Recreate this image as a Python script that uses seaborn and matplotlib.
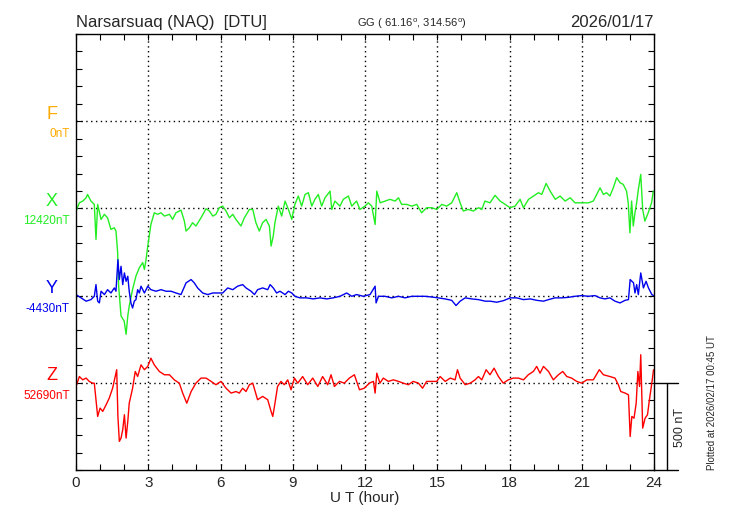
import numpy as np
import pandas as pd
import matplotlib
matplotlib.use("Agg")
import matplotlib.pyplot as plt
import seaborn as sns

# ---------------- data (nT deviations from baselines) ----------------
x_hours = [0, 0.14, 0.28, 0.42, 0.48, 0.62, 0.76, 0.83, 0.9, 1.04, 1.18, 1.31, 1.45, 1.59, 1.66, 1.73,
           1.77, 1.87, 2.0, 2.08, 2.15, 2.21, 2.35, 2.49, 2.63, 2.77, 2.84, 2.91, 2.98, 3.11, 3.25,
           3.39, 3.53, 3.67, 3.88, 4.01, 4.15, 4.36, 4.5, 4.57, 4.71, 4.84, 4.98, 5.19, 5.4, 5.54,
           5.68, 5.81, 5.95, 6.09, 6.23, 6.37, 6.51, 6.64, 6.85, 6.99, 7.2, 7.34, 7.47, 7.61, 7.75,
           7.89, 8.03, 8.1, 8.19, 8.26, 8.4, 8.54, 8.68, 8.82, 8.96, 9.09, 9.23, 9.37, 9.51, 9.65,
           9.79, 9.92, 10.06, 10.2, 10.34, 10.55, 10.62, 10.75, 10.96, 11.1, 11.31, 11.45, 11.65,
           11.79, 12.0, 12.14, 12.28, 12.42, 12.49, 12.63, 12.83, 13.04, 13.25, 13.39, 13.52, 13.73,
           13.94, 14.15, 14.35, 14.56, 14.77, 14.98, 15.19, 15.39, 15.6, 15.81, 15.95, 16.08, 16.29,
           16.5, 16.71, 16.85, 16.98, 17.19, 17.4, 17.61, 17.82, 18.02, 18.23, 18.44, 18.58, 18.79,
           19.0, 19.2, 19.34, 19.52, 19.69, 19.9, 20.1, 20.31, 20.52, 20.72, 21.0, 21.28, 21.48,
           21.62, 21.76, 21.9, 22.03, 22.17, 22.31, 22.45, 22.59, 22.72, 22.86, 22.93, 23.0, 23.07,
           23.14, 23.21, 23.28, 23.35, 23.45, 23.53, 23.62, 23.76, 23.9, 23.97]
x_vals = [-15, 32, 42, 61, 80, 42, 23, -178, 23, -63, -34, -54, -120, -111, -130, -254,
          -445, -617, -646, -722, -617, -560, -464, -388, -340, -311, -350, -292, -216, -92, -25,
          -34, -25, -44, -34, -63, -25, -10, -73, -130, -111, -82, -101, -54, -2, -15,
          -44, -34, 4, 13, -15, -54, -34, -63, -101, -54, -6, -6, -82, -130, -82,
          -63, -101, -216, -159, -82, 13, -44, 42, -6, -63, 23, 71, 13, 80, 90,
          13, 52, 80, 13, 61, 99, -6, 42, 13, 52, 71, 13, 42,
          -6, 13, 32, 13, -92, 99, 32, 42, 52, 42, 61, 23, 23,
          13, 23, -25, 4, 4, -6, 23, 13, 32, 90, 32, -15, -6,
          -15, 4, -6, 42, 32, 75, 42, 23, 4, 13, 52, 4, 52,
          71, 90, 80, 143, 99, 52, 71, 42, 61, 32, 32, 32, 42,
          80, 118, 80, 90, 71, 118, 176, 147, 138, 99, 32, -140, 42,
          -101, -25, 32, 109, 195, -6, -73, -25, 32, 99]

y_hours = [0, 0.21, 0.42, 0.62, 0.76, 0.83, 0.9, 0.97, 1.04, 1.18, 1.31, 1.45, 1.59, 1.66, 1.74,
           1.8, 1.87, 1.94, 2.01, 2.08, 2.15, 2.21, 2.28, 2.35, 2.42, 2.49, 2.56, 2.63, 2.7, 2.84,
           2.98, 3.11, 3.32, 3.53, 3.74, 3.95, 4.15, 4.36, 4.57, 4.78, 4.91, 5.05, 5.26, 5.47, 5.68,
           5.88, 6.09, 6.3, 6.51, 6.71, 6.92, 7.06, 7.27, 7.41, 7.54, 7.75, 7.96, 8.06, 8.19, 8.33,
           8.47, 8.68, 8.82, 8.96, 9.09, 9.3, 9.58, 9.85, 10.13, 10.41, 10.68, 10.96, 11.24, 11.45,
           11.65, 11.93, 12.21, 12.42, 12.46, 12.56, 12.83, 13.11, 13.39, 13.66, 13.94, 14.22,
           14.49, 14.77, 15.04, 15.32, 15.6, 15.78, 15.95, 16.16, 16.43, 16.71, 16.99, 17.2, 17.47,
           17.75, 18.03, 18.3, 18.58, 18.86, 19.13, 19.41, 19.62, 19.89, 20.17, 20.44, 20.72, 21.0,
           21.27, 21.55, 21.76, 21.96, 22.17, 22.38, 22.59, 22.8, 22.94, 23.01, 23.15, 23.21, 23.28,
           23.35, 23.45, 23.56, 23.67, 23.77, 23.91, 23.98]
y_vals = [6, -13, -32, -23, -4, 63, -32, -42, 25, 6, 34, 15, 44, 25, 206,
          92, 168, 63, 130, 82, 111, 25, -42, -71, -32, -23, 34, 15, 54, 15,
          54, 34, 25, 34, 25, 25, 15, 6, 73, 92, 73, 44, 15, 6, 15,
          15, 15, 44, 34, 54, 63, 44, 25, 6, 34, 44, 34, 63, 44, 15,
          25, 6, 25, 15, -4, -13, -13, -19, -13, -19, -13, -4, 15, -4,
          6, -4, 6, 54, -42, -4, -4, -13, -4, -13, -4, -4,
          -4, -8, -13, -19, -27, -57, -32, -13, -19, -23, -32, -32, -38,
          -29, -13, -13, -23, -19, -27, -32, -23, -13, -13, -10, -4, 0,
          -4, 0, -13, -19, -13, -32, -42, -27, -23, 92, 73, 15, 63,
          6, 130, 44, 82, 44, 6, 0]

z_hours = [0, 0.14, 0.28, 0.42, 0.55, 0.69, 0.76, 0.83, 0.9, 1.0, 1.11, 1.25, 1.38, 1.52, 1.63,
           1.69, 1.74, 1.8, 1.87, 1.94, 2.01, 2.08, 2.15, 2.21, 2.35, 2.46, 2.56, 2.7, 2.84, 2.98,
           3.11, 3.25, 3.46, 3.67, 3.88, 4.08, 4.29, 4.43, 4.6, 4.78, 4.98, 5.19, 5.4, 5.61, 5.81,
           6.02, 6.23, 6.44, 6.64, 6.78, 6.92, 7.06, 7.2, 7.34, 7.54, 7.75, 7.96, 8.1, 8.17, 8.24,
           8.37, 8.51, 8.65, 8.79, 8.93, 9.07, 9.21, 9.41, 9.62, 9.83, 10.04, 10.24, 10.45, 10.59,
           10.73, 10.94, 11.14, 11.35, 11.56, 11.77, 11.97, 12.18, 12.35, 12.42, 12.49, 12.62,
           12.76, 12.97, 13.18, 13.39, 13.59, 13.8, 14.0, 14.22, 14.39, 14.56, 14.77, 14.98, 15.12,
           15.33, 15.54, 15.74, 15.84, 15.95, 16.16, 16.37, 16.57, 16.71, 16.85, 17.03, 17.19,
           17.36, 17.54, 17.74, 17.95, 18.16, 18.37, 18.58, 18.78, 18.99, 19.13, 19.27, 19.41,
           19.62, 19.82, 20.03, 20.21, 20.38, 20.58, 20.79, 21.0, 21.21, 21.48, 21.73, 21.9, 22.17,
           22.38, 22.52, 22.62, 22.8, 22.94, 23.01, 23.08, 23.17, 23.26, 23.33, 23.4, 23.45, 23.53,
           23.63, 23.73, 23.81, 23.91, 23.98]
z_vals = [-21, 36, 17, 27, 8, -2, -2, -97, -193, -145, -164, -126, -88, -31, 36,
          75, -193, -336, -317, -269, -183, -317, -222, -117, -31, 65, 36, 103, 75, 94,
          141, 103, 65, 46, 46, 17, -2, -59, -117, -50, -2, 27, 27, 8, -11,
          8, -31, -59, -50, -59, -31, -50, -11, -2, -97, -78, -97, -164, -193, -136,
          -21, 8, -11, 17, -40, 27, -2, 36, -11, 27, -21, 36, -11, 46,
          -21, 8, -2, 27, 46, -40, -31, -2, 8, -59, 55, -2,
          27, 8, 17, 8, -2, -11, 8, -2, -31, 8, 8, 8, 36,
          8, 27, 17, 75, 27, -11, -2, 17, 36, 17, 75, 46,
          84, 36, -2, 17, 27, 27, 17, 46, 65, 94, 55, 94,
          65, 17, 46, 65, 36, 27, 8, -2, 17, 17, 75, 46, 36,
          27, -11, -50, -59, -69, -308, -193, -203, -117, 65, -21, 161, -260,
          -203, -183, -97, -2, 75]

components = ["F", "X", "Y", "Z"]
baseline_labels = ["0nT", "12420nT", "-4430nT", "52690nT"]
offsets = [2000, 1500, 1000, 500]
colors = ["#FFAA00", "#22EE22", "#0000EE", "#FF0000"]

title_left = "Narsarsuaq (NAQ)  [DTU]"
title_mid = "GG ( 61.16$^{o}$, 314.56$^{o}$)"
title_right = "2026/01/17"
plotted = "Plotted at 2026/02/17 00:45 UT"
xticks = [0, 3, 6, 9, 12, 15, 18, 21, 24]

# ---------------- figure ----------------
sns.set_style("ticks")
plt.rcParams["font.family"] = ["Liberation Sans", "DejaVu Sans"]
plt.rcParams["mathtext.default"] = "regular"

fig = plt.figure(figsize=(7.3, 5.2), dpi=100)
ax = fig.add_axes([76 / 730, 1 - 470 / 520, (654 - 76) / 730, (470 - 34) / 520])

series = [("X", x_hours, x_vals), ("Y", y_hours, y_vals), ("Z", z_hours, z_vals)]
for name, hrs, vals in series:
    i = components.index(name)
    df = pd.DataFrame({"hour": hrs, "value": np.array(vals) + offsets[i]})
    sns.lineplot(data=df, x="hour", y="value", ax=ax, color=colors[i], lw=1.0,
                 estimator=None, sort=False)

ax.set_xlim(0, 24)
ax.set_ylim(0, 2500)
ax.set_xticks(xticks)
ax.set_xticks(range(25), minor=True)
ax.set_yticks(range(0, 2501, 100))
ax.set_yticklabels([])
ax.tick_params(axis="both", which="both", direction="in", top=True, right=True,
               length=4, width=0.8, color="black")
ax.tick_params(axis="x", labelsize=11, pad=4)
for sp in ax.spines.values():
    sp.set_color("black")
    sp.set_linewidth(1.0)
ax.set_xlabel("U T (hour)", fontsize=11, labelpad=1)
ax.set_ylabel("")

dot = (0, (1, 2.5))
for h in xticks[1:-1]:
    ax.axvline(h, color="black", lw=1.0, ls=dot, zorder=0)
for off in offsets:
    ax.axhline(off, color="black", lw=1.0, ls=dot, zorder=0)

# left labels
for comp, lab, off, col in zip(components, baseline_labels, offsets, colors):
    ax.text(-1.0, off + 40, comp, color=col, fontsize=13, ha="center", va="center",
            clip_on=False)
    ax.text(-0.25, off - 75, lab, color=col, fontsize=8.5, ha="right", va="center",
            clip_on=False)

# scale bar at right
ax.plot([24, 25], [500, 500], color="black", lw=1.0, clip_on=False)
ax.plot([24, 25], [0, 0], color="black", lw=1.0, clip_on=False)
ax.plot([24.54, 24.54], [0, 500], color="black", lw=1.0, clip_on=False)
ax.text(25.1, 246, "500 nT", rotation=90, fontsize=9, ha="center", va="center",
        clip_on=False)

# titles
fig.text(76 / 730, 1 - 27 / 520, title_left, fontsize=12, ha="left", va="baseline")
fig.text(412 / 730, 1 - 27 / 520, title_mid, fontsize=8, ha="center", va="baseline")
fig.text(654 / 730, 1 - 27 / 520, title_right, fontsize=12, ha="right", va="baseline")
fig.text(712 / 730, 1 - 470 / 520, plotted, fontsize=7, rotation=90, ha="center",
         va="bottom")

fig.savefig("out.png", dpi=100, facecolor="white")
